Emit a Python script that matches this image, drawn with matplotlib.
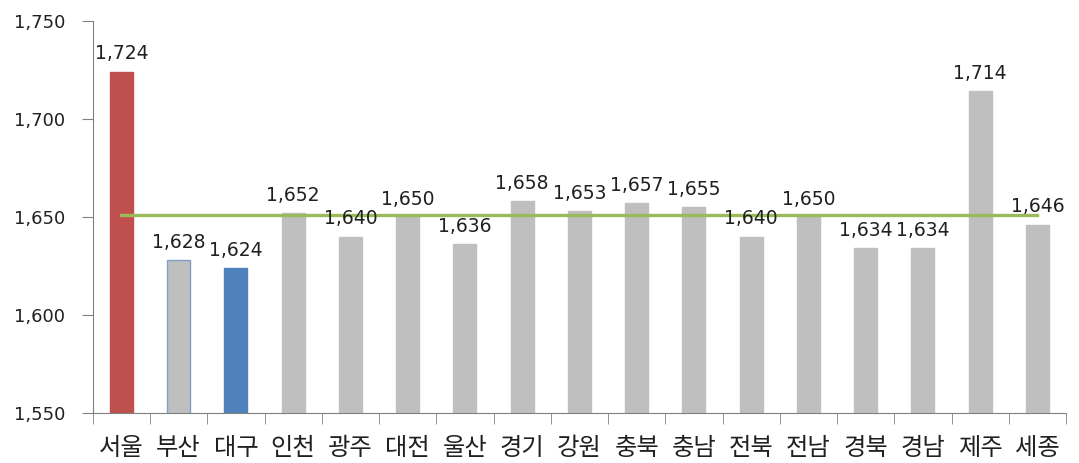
import numpy as np
import matplotlib
matplotlib.use('Agg')
import matplotlib.pyplot as plt

plt.rcParams['font.family'] = ['DejaVu Sans', 'Noto Sans CJK KR']

# 데이터
regions = ['서울', '부산', '대구', '인천', '광주', '대전', '울산', '경기', '강원',
           '충북', '충남', '전북', '전남', '경북', '경남', '제주', '세종']
values = [1724, 1628, 1624, 1652, 1640, 1650, 1636, 1658, 1653,
          1657, 1655, 1640, 1650, 1634, 1634, 1714, 1646]
average = 1651
yticks = [1550, 1600, 1650, 1700, 1750]

gray = '#BFBFBF'
colors = [gray] * len(values)
colors[0] = '#C0504D'
colors[2] = '#4F81BD'
edges = list(colors)
edges[1] = '#7F9FC8'

fig = plt.figure(figsize=(10.79, 4.63), dpi=100)
ax = fig.add_axes([0.086, 0.108, 0.902, 0.847])

x = np.arange(len(values))
ax.bar(x, values, width=0.4, color=colors, edgecolor=edges, linewidth=1, zorder=2)
ax.plot([x[0], x[-1]], [average, average], color='#9BBB59', linewidth=2.4, zorder=3)

for xi, v in zip(x, values):
    ax.annotate(f'{v:,}', (xi, v), xytext=(0, 6), textcoords='offset points',
                ha='center', va='bottom', fontsize=13.5, color='#202020', zorder=4)

ax.set_ylim(1550, 1750)
ax.set_yticks(yticks)
ax.set_yticklabels([f'{t:,}' for t in yticks], fontsize=13, color='#202020')
ax.set_xlim(-0.5, len(values) - 0.5)
ax.set_xticks(x)
ax.set_xticklabels(regions, fontsize=17.5, color='#202020',
                   family=['Noto Sans CJK KR', 'DejaVu Sans'])
ax.set_xticks(np.arange(-0.5, len(values)), minor=True)
ax.tick_params(axis='x', which='major', length=0, pad=16)
ax.tick_params(axis='x', which='minor', length=8, color='#808080', direction='out')
ax.tick_params(axis='y', length=8, color='#808080', direction='out', pad=12)

for s in ['top', 'right']:
    ax.spines[s].set_visible(False)
for s in ['left', 'bottom']:
    ax.spines[s].set_color('#808080')

fig.savefig('out.png', dpi=100)
